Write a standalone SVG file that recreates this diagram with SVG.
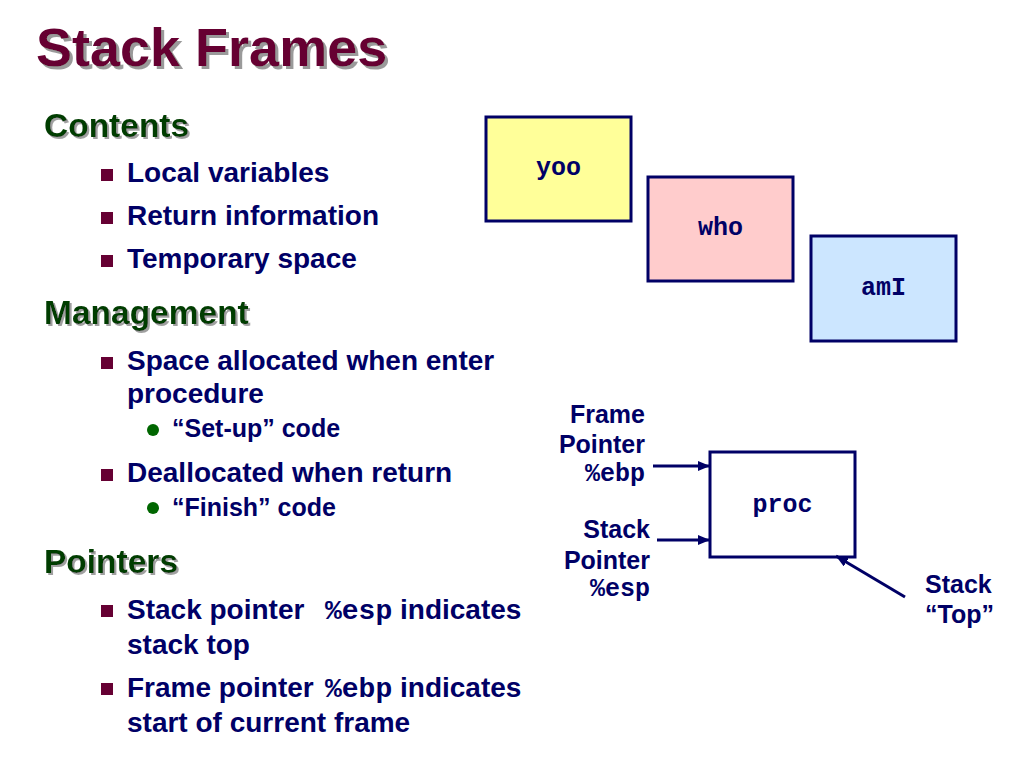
<svg xmlns="http://www.w3.org/2000/svg" width="1024" height="768" viewBox="0 0 1024 768">
<defs>
<style>
.title{font-family:"Liberation Sans",Arial,sans-serif;font-weight:bold;font-size:54px;fill:#660033}
.head{font-family:"Liberation Sans",Arial,sans-serif;font-weight:bold;font-size:33.5px;fill:#003d00}
.body{font-family:"Liberation Sans",Arial,sans-serif;font-weight:bold;font-size:28px;fill:#000066}
.sub{font-family:"Liberation Sans",Arial,sans-serif;font-weight:bold;font-size:25px;fill:#000066}
.lbl{font-family:"Liberation Sans",Arial,sans-serif;font-weight:bold;font-size:25px;fill:#000066}
.mono{font-family:"Liberation Mono","Courier New",monospace;font-weight:bold}
.code{font-family:"Liberation Mono","Courier New",monospace;font-weight:bold;font-size:25px;fill:#000066}
.sq{fill:#660033}
.dot{fill:#006600}
.box{stroke:#000066;stroke-width:3}
.conn{stroke:#000066;stroke-width:3;fill:none}
</style>
<filter id="tshadow" x="-5%" y="-20%" width="115%" height="150%">
<feOffset in="SourceAlpha" dx="3" dy="3" result="off"/>
<feFlood flood-color="#9a9a9a"/>
<feComposite in2="off" operator="in" result="sh"/>
<feMerge><feMergeNode in="sh"/><feMergeNode in="SourceGraphic"/></feMerge>
</filter>
<filter id="hshadow" x="-5%" y="-20%" width="115%" height="150%">
<feOffset in="SourceAlpha" dx="2" dy="2" result="off"/>
<feFlood flood-color="#a0a0a0"/>
<feComposite in2="off" operator="in" result="sh"/>
<feMerge><feMergeNode in="sh"/><feMergeNode in="SourceGraphic"/></feMerge>
</filter>
<marker id="arrow" markerUnits="userSpaceOnUse" markerWidth="12" markerHeight="10" refX="12" refY="5" orient="auto">
<path d="M0,0 L12,5 L0,10 Z" fill="#000066"/>
</marker>
</defs>
<rect width="1024" height="768" fill="#ffffff"/>

<g id="title">
<text class="title" x="36" y="66" filter="url(#tshadow)">Stack Frames</text>
</g>

<g id="contents">
<text class="head" x="44" y="137" filter="url(#hshadow)">Contents</text>
<rect class="sq" x="101" y="169" width="12" height="12"/>
<text class="body" x="127" y="182">Local variables</text>
<rect class="sq" x="101" y="212" width="12" height="12"/>
<text class="body" x="127" y="225">Return information</text>
<rect class="sq" x="101" y="255" width="12" height="12"/>
<text class="body" x="127" y="268">Temporary space</text>
</g>

<g id="management">
<text class="head" x="44" y="324" filter="url(#hshadow)">Management</text>
<rect class="sq" x="101" y="357" width="12" height="12"/>
<text class="body" x="127" y="370">Space allocated when enter</text>
<text class="body" x="127" y="403">procedure</text>
<circle class="dot" cx="153" cy="430" r="6"/>
<text class="sub" x="172" y="437">“Set-up” code</text>
<rect class="sq" x="101" y="469" width="12" height="12"/>
<text class="body" x="127" y="482">Deallocated when return</text>
<circle class="dot" cx="153" cy="508" r="6"/>
<text class="sub" x="172" y="516">“Finish” code</text>
</g>

<g id="pointers">
<text class="head" x="44" y="573" filter="url(#hshadow)">Pointers</text>
<rect class="sq" x="101" y="605" width="12" height="12"/>
<text class="body" x="127" y="619">Stack pointer <tspan class="mono" x="325">%esp</tspan><tspan x="400">indicates</tspan></text>
<text class="body" x="127" y="654">stack top</text>
<rect class="sq" x="101" y="683" width="12" height="12"/>
<text class="body" x="127" y="697">Frame pointer <tspan class="mono" x="325">%ebp</tspan><tspan x="400">indicates</tspan></text>
<text class="body" x="127" y="732">start of current frame</text>
</g>

<g id="yoo">
<rect class="box" x="486" y="117" width="145" height="104" fill="#ffff99"/>
<text class="code" x="558.5" y="175" text-anchor="middle">yoo</text>
</g>
<g id="who">
<rect class="box" x="648" y="177" width="145" height="104" fill="#ffcccc"/>
<text class="code" x="720.5" y="235" text-anchor="middle">who</text>
</g>
<g id="amI">
<rect class="box" x="811" y="236" width="145" height="105" fill="#cce6ff"/>
<text class="code" x="883.5" y="295" text-anchor="middle">amI</text>
</g>
<g id="proc">
<rect class="box" x="710" y="452" width="145" height="105" fill="#ffffff"/>
<text class="code" x="782.5" y="512" text-anchor="middle">proc</text>
</g>

<g id="frame-pointer-label">
<text class="lbl" x="645" y="423" text-anchor="end">Frame</text>
<text class="lbl" x="645" y="453" text-anchor="end">Pointer</text>
<text class="code" x="645" y="481" text-anchor="end">%ebp</text>
</g>
<g id="stack-pointer-label">
<text class="lbl" x="650" y="538" text-anchor="end">Stack</text>
<text class="lbl" x="650" y="569" text-anchor="end">Pointer</text>
<text class="code" x="650" y="596" text-anchor="end">%esp</text>
</g>
<g id="stack-top-label">
<text class="lbl" x="925" y="593">Stack</text>
<text class="lbl" x="925" y="623">“Top”</text>
</g>

<g id="connectors">
<line class="conn" x1="653" y1="466" x2="710" y2="466" marker-end="url(#arrow)"/>
<line class="conn" x1="657" y1="540" x2="710" y2="540" marker-end="url(#arrow)"/>
<line class="conn" x1="905" y1="597" x2="836" y2="556" marker-end="url(#arrow)"/>
</g>
</svg>
